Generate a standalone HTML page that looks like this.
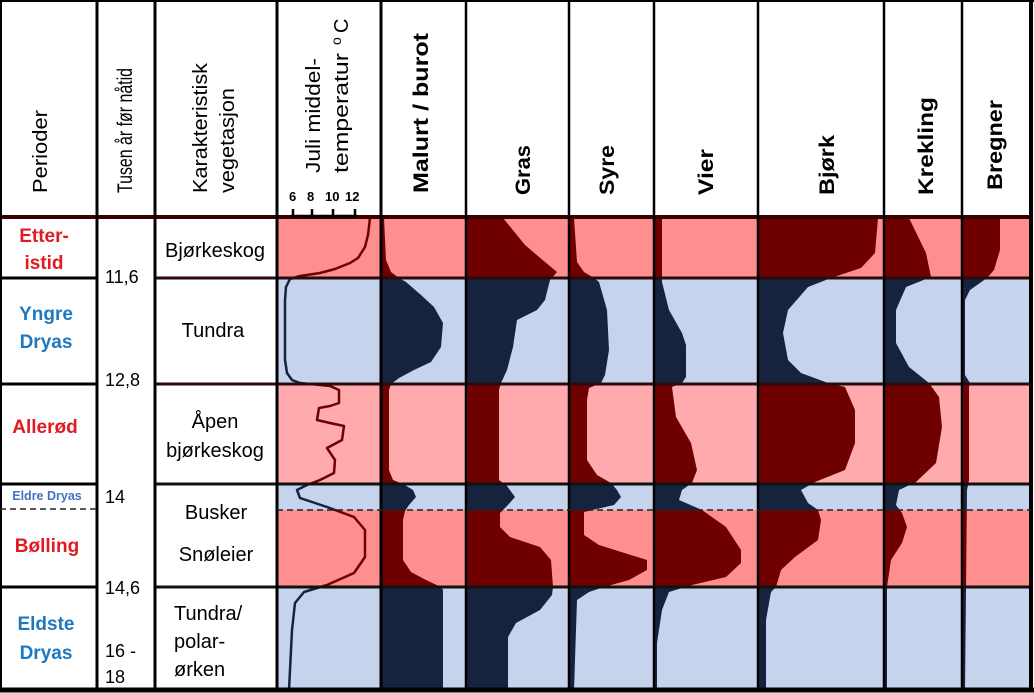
<!DOCTYPE html>
<html><head><meta charset="utf-8"><style>
html,body{margin:0;padding:0;background:#fff}
svg{display:block}
text{font-family:"Liberation Sans",sans-serif}
</style></head><body>
<svg width="1034" height="693" viewBox="0 0 1034 693" xmlns="http://www.w3.org/2000/svg">
<defs>
<clipPath id="blue"><rect x="277" y="278" width="760" height="106"/><rect x="277" y="484" width="760" height="26"/><rect x="277" y="587" width="760" height="106"/></clipPath>
<clipPath id="red"><rect x="277" y="217" width="760" height="61"/><rect x="277" y="384" width="760" height="100"/><rect x="277" y="510" width="760" height="77"/></clipPath>
<clipPath id="all"><rect x="277" y="217" width="755" height="472"/></clipPath>
<g id="shapes">
<path d="M381,217 L384,218 386,260 391,272 399,278 406,282 421,295 434,307 443,323 441,347 431,362 414,370 399,378 391,384 389,390 389,470 393,480 403,484 413,490 416,497 409,505 405,511 403,520 403,560 411,572 426,580 441,587 443,590 443,690 381,690Z"/>
<path d="M465,217 L503,218 525,245 545,262 557,272 550,280 545,300 537,310 517,320 513,347 507,370 501,383 499,390 499,480 507,486 515,497 507,506 500,513 500,527 510,537 540,547 551,560 553,587 552,595 540,610 516,623 508,637 508,690 465,690Z"/>
<path d="M569,217 L574,218 577,262 584,272 594,278 599,282 607,310 609,350 605,375 601,383 589,388 587,400 587,460 597,475 611,483 617,490 621,497 614,505 584,512 584,535 599,545 647,560 647,570 629,580 604,587 589,592 577,600 574,690 569,690Z"/>
<path d="M654,217 L662,218 662,282 669,310 682,333 686,345 686,377 682,383 672,387 676,417 691,443 697,470 692,483 682,490 679,500 702,510 726,527 741,550 741,563 726,577 692,585 669,592 662,610 657,643 657,690 654,690Z"/>
<path d="M758,217 L878,218 875,253 861,268 831,278 808,287 788,310 783,333 788,360 801,373 828,383 845,387 855,410 855,443 845,470 815,482 801,490 808,503 818,510 821,520 818,540 795,557 781,570 776,587 771,592 766,620 766,690 758,690Z"/>
<path d="M884,217 L909,218 926,253 931,277 906,287 896,310 896,343 909,367 929,383 939,397 942,427 936,463 916,482 899,490 896,505 902,513 907,527 902,543 891,560 887,587 887,690 884,690Z"/>
<path d="M962,217 L1000,218 1000,250 994,270 987,278 970,290 965,300 965,375 970,383 969,387 969,480 967,490 965,690 962,690Z"/>
</g>
<polyline id="temp" fill="none" stroke-width="2.5" stroke-linejoin="round" points="370,218 368,235 365,247 358,258 350,263 335,269 320,273 300,276 290,279 286,287 285,300 285,360 287,373 292,380 300,383 330,386 339,390 339,403 330,406 319,408 317,420 330,423 344,426 342,440 327,448 335,460 334,473 320,480 307,485 297,490 300,498 327,507 354,517 365,530 365,557 354,573 327,585 304,592 295,603 292,630 289,690"/>
</defs>
<rect x="277" y="217" width="755" height="61" fill="#ff8e8e"/>
<rect x="277" y="278" width="755" height="106" fill="#c5d3ec"/>
<rect x="277" y="384" width="755" height="100" fill="#ffaaad"/>
<rect x="277" y="484" width="755" height="26" fill="#c5d3ec"/>
<rect x="277" y="510" width="755" height="77" fill="#ff8e8e"/>
<rect x="277" y="587" width="755" height="103" fill="#c5d3ec"/>
<g clip-path="url(#all)">
<g clip-path="url(#blue)" fill="#15233f"><use href="#shapes"/></g>
<g clip-path="url(#red)" fill="#6e0000"><use href="#shapes"/></g>
<g clip-path="url(#blue)" stroke="#15233f"><use href="#temp"/></g>
<g clip-path="url(#red)" stroke="#6e0000"><use href="#temp"/></g>
</g>
<g stroke="#000" stroke-width="3">
<line x1="0" y1="217" x2="1032" y2="217" stroke="#3a0000" stroke-width="4"/>
<line x1="0" y1="278" x2="97" y2="278"/><line x1="155" y1="278" x2="1032" y2="278" stroke="#2a0a10"/>
<line x1="0" y1="384" x2="97" y2="384"/><line x1="155" y1="384" x2="1032" y2="384" stroke="#2a0a10"/>
<line x1="0" y1="484" x2="97" y2="484"/><line x1="155" y1="484" x2="1032" y2="484" stroke="#111"/>
<line x1="0" y1="587" x2="97" y2="587"/><line x1="155" y1="587" x2="1032" y2="587" stroke="#111"/>
<line x1="0" y1="690" x2="1034" y2="690" stroke-width="5"/>
<line x1="97" y1="0" x2="97" y2="690"/>
<line x1="155" y1="0" x2="155" y2="690"/>
<line x1="277" y1="0" x2="277" y2="690"/>
<line x1="381" y1="0" x2="381" y2="690"/>
<line x1="466" y1="0" x2="466" y2="690" stroke-width="2.5"/>
<line x1="569" y1="0" x2="569" y2="690" stroke-width="2.5"/>
<line x1="654" y1="0" x2="654" y2="690" stroke-width="2.5"/>
<line x1="758" y1="0" x2="758" y2="690" stroke-width="2.5"/>
<line x1="884" y1="0" x2="884" y2="690" stroke-width="2.5"/>
<line x1="962" y1="0" x2="962" y2="690" stroke-width="2.5"/>
<line x1="1031" y1="0" x2="1031" y2="690" stroke-width="4"/>
<line x1="1" y1="0" x2="1" y2="690" stroke-width="2"/>
<line x1="0" y1="1" x2="1034" y2="1" stroke-width="2"/>
</g>
<g stroke="#222" stroke-width="1.5" stroke-dasharray="6,4">
<line x1="0" y1="509" x2="97" y2="509"/><line x1="277" y1="510" x2="1031" y2="510"/>
</g>
<g stroke="#000" stroke-width="2.5">
<line x1="293" y1="209" x2="293" y2="217"/><line x1="312" y1="209" x2="312" y2="217"/><line x1="333" y1="209" x2="333" y2="217"/><line x1="355" y1="209" x2="355" y2="217"/>
<line x1="291" y1="216" x2="357" y2="216"/>
</g>
<text x="289" y="201" font-size="13" font-weight="bold">6</text>
<text x="307" y="201" font-size="13" font-weight="bold">8</text>
<text x="325" y="201" font-size="13" font-weight="bold">10</text>
<text x="345" y="201" font-size="13" font-weight="bold">12</text>
<g font-size="20" fill="#000">
<text transform="translate(47,193) rotate(-90)" textLength="83" lengthAdjust="spacingAndGlyphs">Perioder</text>
<text transform="translate(132,193) rotate(-90)" font-size="21" textLength="125" lengthAdjust="spacingAndGlyphs">Tusen år før nåtid</text>
<text transform="translate(207,193) rotate(-90)" textLength="130" lengthAdjust="spacingAndGlyphs">Karakteristisk</text>
<text transform="translate(234,193) rotate(-90)" textLength="105" lengthAdjust="spacingAndGlyphs">vegetasjon</text>
<text transform="translate(320,173) rotate(-90)" textLength="115" lengthAdjust="spacingAndGlyphs">Juli middel-</text>
<text transform="translate(348,173) rotate(-90)" textLength="120" lengthAdjust="spacingAndGlyphs">temperatur</text>
<text transform="translate(341,45) rotate(-90)" font-size="14">o</text>
<text transform="translate(348,33) rotate(-90)">C</text>
</g>
<g font-size="21" font-weight="bold" fill="#000">
<text transform="translate(428,193) rotate(-90)" textLength="160" lengthAdjust="spacingAndGlyphs">Malurt / burot</text>
<text transform="translate(530,195) rotate(-90)" textLength="50" lengthAdjust="spacingAndGlyphs">Gras</text>
<text transform="translate(614,195) rotate(-90)" textLength="50" lengthAdjust="spacingAndGlyphs">Syre</text>
<text transform="translate(713,195) rotate(-90)" textLength="46" lengthAdjust="spacingAndGlyphs">Vier</text>
<text transform="translate(834,195) rotate(-90)" textLength="60" lengthAdjust="spacingAndGlyphs">Bjørk</text>
<text transform="translate(933,195) rotate(-90)" textLength="98" lengthAdjust="spacingAndGlyphs">Krekling</text>
<text transform="translate(1002,190) rotate(-90)" textLength="90" lengthAdjust="spacingAndGlyphs">Bregner</text>
</g>
<g font-size="19" font-weight="bold" text-anchor="middle">
<text x="44" y="242" fill="#e01b22">Etter-</text>
<text x="44" y="269" fill="#e01b22">istid</text>
<text x="46" y="320" fill="#1f78be">Yngre</text>
<text x="46" y="348" fill="#1f78be">Dryas</text>
<text x="45" y="433" fill="#e01b22">Allerød</text>
<text x="47" y="500" fill="#4472c4" font-size="12.5">Eldre Dryas</text>
<text x="47" y="552" fill="#e01b22">Bølling</text>
<text x="46" y="630" fill="#1f78be">Eldste</text>
<text x="46" y="659" fill="#1f78be">Dryas</text>
</g>
<g font-size="18" fill="#000">
<text x="105" y="283">11,6</text>
<text x="105" y="386">12,8</text>
<text x="105" y="503">14</text>
<text x="105" y="594">14,6</text>
<text x="105" y="657">16 -</text>
<text x="105" y="683">18</text>
</g>
<g font-size="20" fill="#000" text-anchor="middle">
<text x="215" y="257">Bjørkeskog</text>
<text x="213" y="337">Tundra</text>
<text x="215" y="428">Åpen</text>
<text x="215" y="457">bjørkeskog</text>
<text x="216" y="519">Busker</text>
<text x="216" y="561">Snøleier</text>
</g>
<g font-size="20" fill="#000">
<text x="174" y="620">Tundra/</text>
<text x="174" y="648">polar-</text>
<text x="174" y="676">ørken</text>
</g>
</svg>
</body></html>
